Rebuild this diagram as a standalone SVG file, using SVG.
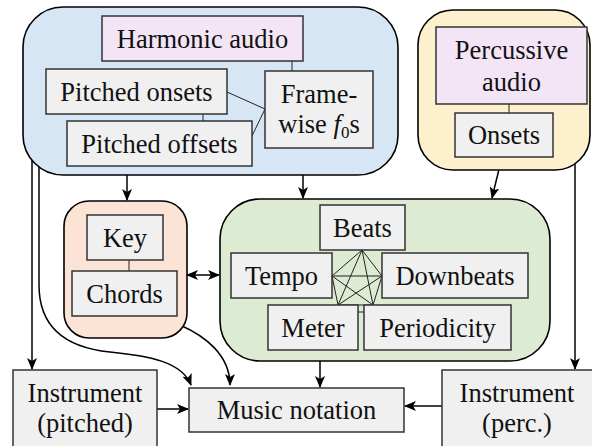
<svg xmlns="http://www.w3.org/2000/svg" width="592" height="446" viewBox="0 0 592 446">
<style>
.grp{stroke:#000;stroke-width:1.6}
.box{fill:#f0f0f0;stroke:#333;stroke-width:1.5}
.aud{fill:#f3e5f5;stroke:#333;stroke-width:1.5}
.lnk{stroke:#222;stroke-width:1;fill:none}
.con{stroke:#000;stroke-width:1.5;fill:none}
text{font-family:Liberation Serif, Times New Roman, serif;font-size:26.5px;fill:#111;text-anchor:middle}
</style>
<defs>
<marker id="ah" markerUnits="userSpaceOnUse" markerWidth="12" markerHeight="10" refX="11" refY="5" orient="auto-start-reverse" viewBox="0 0 12 10">
<path d="M0,0 L12,5 L0,10 L3,5 Z" fill="#000"/>
</marker>
</defs>
<g id="connectors">
<path class="con" d="M32,150 V369" marker-end="url(#ah)"/>
<path class="con" d="M39,150 V285 C39,330 70,348 110,352 C150,356 182,362 191,385" marker-end="url(#ah)"/>
<path class="con" d="M127,170 V200" marker-end="url(#ah)"/>
<path class="con" d="M303,170 V198" marker-end="url(#ah)"/>
<path class="con" d="M500,165 L492,198" marker-end="url(#ah)"/>
<path class="con" d="M575,150 V369" marker-end="url(#ah)"/>
<path class="con" d="M187,275 H219" marker-start="url(#ah)" marker-end="url(#ah)"/>
<path class="con" d="M180,325 C205,336 230,355 230,385" marker-end="url(#ah)"/>
<path class="con" d="M320,361 V387" marker-end="url(#ah)"/>
<path class="con" d="M157,409 H188" marker-end="url(#ah)"/>
<path class="con" d="M442,406 H405" marker-end="url(#ah)"/>
</g>
<g id="harmonic-group">
<rect class="grp" x="23" y="7" width="375" height="168" rx="40" fill="#d7e6f4"/>
<g class="lnk">
<line x1="292" y1="61" x2="292" y2="71"/>
<line x1="227" y1="92" x2="265" y2="109"/>
<line x1="252" y1="136" x2="265" y2="109"/>
<line x1="203" y1="114" x2="203" y2="121"/>
</g>
<g id="harmonic-audio"><rect class="aud" x="102" y="16" width="201" height="45"/><text x="202.5" y="47.5">Harmonic audio</text></g>
<g id="pitched-onsets"><rect class="box" x="46" y="69" width="181" height="45"/><text x="136.5" y="100.5">Pitched onsets</text></g>
<g id="pitched-offsets"><rect class="box" x="67" y="121" width="185" height="45"/><text x="159.5" y="152.5">Pitched offsets</text></g>
<g id="framewise-f0s"><rect class="box" x="265" y="71" width="108" height="77"/><text x="319" y="103">Frame-</text><text x="319" y="133">wise <tspan font-style="italic">f</tspan><tspan font-size="17" dy="5">0</tspan><tspan dy="-5">s</tspan></text></g>
</g>
<g id="percussive-group">
<rect class="grp" x="418" y="10" width="172" height="160" rx="35" fill="#fdf0cc"/>
<line class="lnk" x1="509" y1="104" x2="509" y2="113"/>
<g id="percussive-audio"><rect class="aud" x="436" y="27" width="151" height="77"/><text x="511.5" y="59">Percussive</text><text x="511.5" y="91">audio</text></g>
<g id="onsets"><rect class="box" x="455" y="113" width="98" height="44"/><text x="504" y="144">Onsets</text></g>
</g>
<g id="harmony-group">
<rect class="grp" x="64" y="201" width="123" height="137" rx="25" fill="#fbe4d5"/>
<line class="lnk" x1="129" y1="260" x2="129" y2="271"/>
<g id="key"><rect class="box" x="87" y="215" width="76" height="45"/><text x="125" y="246.5">Key</text></g>
<g id="chords"><rect class="box" x="72" y="271" width="105" height="45"/><text x="124.5" y="302.5">Chords</text></g>
</g>
<g id="rhythm-group">
<rect class="grp" x="220" y="199" width="330" height="162" rx="40" fill="#dcebd2"/>
<g class="lnk">
<line x1="362" y1="250" x2="332" y2="276"/>
<line x1="362" y1="250" x2="382" y2="276"/>
<line x1="362" y1="250" x2="338" y2="305"/>
<line x1="362" y1="250" x2="373" y2="305"/>
<line x1="332" y1="276" x2="382" y2="276"/>
<line x1="332" y1="276" x2="338" y2="305"/>
<line x1="332" y1="276" x2="373" y2="305"/>
<line x1="382" y1="276" x2="338" y2="305"/>
<line x1="382" y1="276" x2="373" y2="305"/>
<line x1="338" y1="305" x2="373" y2="305"/>
<line x1="358" y1="312" x2="364" y2="312"/>
</g>
<g id="beats"><rect class="box" x="320" y="205" width="85" height="45"/><text x="362.5" y="236.5">Beats</text></g>
<g id="tempo"><rect class="box" x="231" y="253" width="101" height="45"/><text x="281.5" y="284.5">Tempo</text></g>
<g id="downbeats"><rect class="box" x="382" y="253" width="146" height="45"/><text x="455" y="284.5">Downbeats</text></g>
<g id="meter"><rect class="box" x="268" y="305" width="90" height="45"/><text x="313" y="336.5">Meter</text></g>
<g id="periodicity"><rect class="box" x="364" y="305" width="147" height="45"/><text x="437.5" y="336.5">Periodicity</text></g>
</g>
<g id="instrument-pitched"><rect class="box" x="13" y="370" width="144" height="80"/><text x="85" y="402">Instrument</text><text x="85" y="432">(pitched)</text></g>
<g id="music-notation"><rect class="box" x="189" y="388" width="215" height="44"/><text x="296.5" y="419">Music notation</text></g>
<g id="instrument-perc"><rect class="box" x="442" y="370" width="152" height="80"/><text x="517" y="402">Instrument</text><text x="517" y="432">(perc.)</text></g>
</svg>
